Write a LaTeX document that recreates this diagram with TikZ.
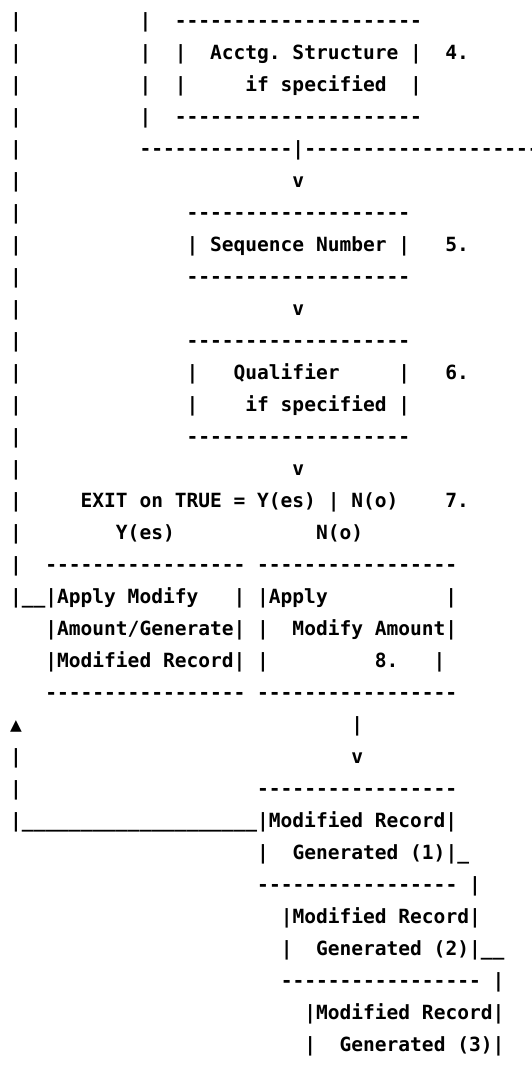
\documentclass[tikz,border=0pt]{standalone}
\usepackage{fontspec}
\setmonofont{DejaVu Sans Mono}
\usepackage{tikz}

\tikzset{asciitext/.style={anchor=base west,inner sep=0.75pt,font=\ttfamily\bfseries\fontsize{14.66pt}{24pt}\selectfont}}

\begin{document}
\begin{tikzpicture}[x=0.75pt,y=0.75pt,yscale=-1,xscale=1]
%set diagram left start at 0, and has height of 1076
\useasboundingbox (0,0) rectangle (532,1076);

% Text Node
\draw (8.8,27.3) node [asciitext] (acctgTop) {|~~~~~~~~~~|~~---------------------};
% Text Node
\draw (8.8,59.3) node [asciitext] (acctgName) {|~~~~~~~~~~|~~|~~Acctg.~Structure~|~~4.};
% Text Node
\draw (8.8,91.3) node [asciitext] (acctgIf) {|~~~~~~~~~~|~~|~~~~~if~specified~~|};
% Text Node
\draw (8.8,123.3) node [asciitext] (acctgBot) {|~~~~~~~~~~|~~---------------------};
% Text Node
\draw (8.8,155.3) node [asciitext] (branch) {|~~~~~~~~~~-------------|---------------------};
% Text Node
\draw (8.8,187.3) node [asciitext] (toSeq) {|~~~~~~~~~~~~~~~~~~~~~~~v};
% Text Node
\draw (8.8,219.3) node [asciitext] (seqTop) {|~~~~~~~~~~~~~~-------------------};
% Text Node
\draw (8.8,251.3) node [asciitext] (seqName) {|~~~~~~~~~~~~~~|~Sequence~Number~|~~~5.};
% Text Node
\draw (8.8,283.3) node [asciitext] (seqBot) {|~~~~~~~~~~~~~~-------------------};
% Text Node
\draw (8.8,315.3) node [asciitext] (toQual) {|~~~~~~~~~~~~~~~~~~~~~~~v};
% Text Node
\draw (8.8,347.3) node [asciitext] (qualTop) {|~~~~~~~~~~~~~~-------------------};
% Text Node
\draw (8.8,379.3) node [asciitext] (qualName) {|~~~~~~~~~~~~~~|~~~Qualifier~~~~~|~~~6.};
% Text Node
\draw (8.8,411.3) node [asciitext] (qualIf) {|~~~~~~~~~~~~~~|~~~~if~specified~|};
% Text Node
\draw (8.8,443.3) node [asciitext] (qualBot) {|~~~~~~~~~~~~~~-------------------};
% Text Node
\draw (8.8,475.3) node [asciitext] (toExit) {|~~~~~~~~~~~~~~~~~~~~~~~v};
% Text Node
\draw (8.8,507.3) node [asciitext] (exitTest) {|~~~~~EXIT~on~TRUE~=~Y(es)~|~N(o)~~~~7.};
% Text Node
\draw (8.8,539.3) node [asciitext] (exitYN) {|~~~~~~~~Y(es)~~~~~~~~~~~~N(o)};
% Text Node
\draw (8.8,571.3) node [asciitext] (applyTop) {|~~-----------------~-----------------};
% Text Node
\draw (8.8,603.3) node [asciitext] (applyA) {|\_\_|Apply~Modify~~~|~|Apply~~~~~~~~~~|};
% Text Node
\draw (44.11,635.3) node [asciitext] (applyB) {|Amount/Generate|~|~~Modify~Amount|};
% Text Node
\draw (44.11,667.3) node [asciitext] (applyC) {|Modified~Record|~|~~~~~~~~~8.~~~|};
% Text Node
\draw (44.11,699.3) node [asciitext] (applyBot) {-----------------~-----------------};
% Text Node
\draw (8.8,731.3) node [asciitext] (loopUp) {▲~~~~~~~~~~~~~~~~~~~~~~~~~~~~|};
% Text Node
\draw (8.8,763.3) node [asciitext] (toRec) {|~~~~~~~~~~~~~~~~~~~~~~~~~~~~v};
% Text Node
\draw (8.8,795.3) node [asciitext] (recOneTop) {|~~~~~~~~~~~~~~~~~~~~-----------------};
% Text Node
\draw (8.8,827.3) node [asciitext] (recOneName) {|\_\_\_\_\_\_\_\_\_\_\_\_\_\_\_\_\_\_\_\_|Modified~Record|};
% Text Node
\draw (255.97,859.3) node [asciitext] (recOneGen) {|~~Generated~(1)|\_};
% Text Node
\draw (255.97,891.3) node [asciitext] (recOneBot) {-----------------~|};
% Text Node
\draw (279.51,923.3) node [asciitext] (recTwoName) {|Modified~Record|};
% Text Node
\draw (279.51,955.3) node [asciitext] (recTwoGen) {|~~Generated~(2)|\_\_};
% Text Node
\draw (279.51,987.3) node [asciitext] (recTwoBot) {-----------------~|};
% Text Node
\draw (303.05,1019.3) node [asciitext] (recThreeName) {|Modified~Record|};
% Text Node
\draw (303.05,1051.3) node [asciitext] (recThreeGen) {|~~Generated~(3)|};

\end{tikzpicture}
\end{document}
